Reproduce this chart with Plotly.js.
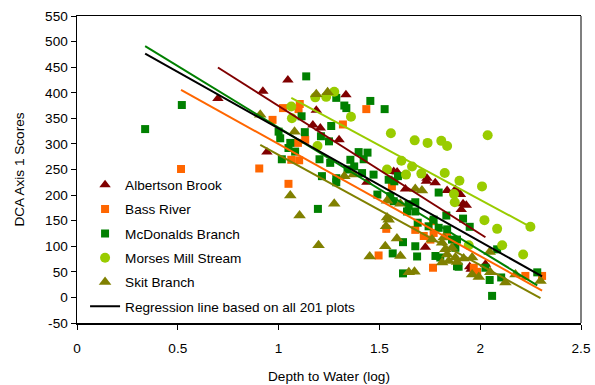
<!DOCTYPE html>
<html>
<head>
<meta charset="utf-8">
<script src="https://cdn.plot.ly/plotly-3.0.1.min.js"></script>
<style>
  html, body { margin: 0; padding: 0; background: #ffffff; }
  #chart { width: 595px; height: 385px; }
</style>
</head>
<body>
<div id="chart"></div>
<script>
// Depth to water (log) vs. DCA axis 1 score, by stream site
const albertsonX = [0.699, 0.922, 0.942, 1.046, 1.187, 1.170, 1.207, 1.300, 1.334, 1.438, 1.571, 1.588, 1.736, 1.629, 1.733, 1.777, 1.836, 1.877, 1.902, 1.915, 1.931, 1.906, 1.728, 1.948, 2.026, 1.955];
const albertsonY = [389, 403, 284, 425, 366, 337, 331, 308, 396, 225, 246, 245, 233, 212, 227, 224, 209, 211, 201, 183, 180, 172, 98, 60, 65, 55];

const bassX = [0.516, 0.904, 0.970, 1.022, 1.105, 1.099, 1.132, 1.096, 1.063, 1.102, 1.049, 1.319, 1.435, 1.562, 1.534, 1.678, 1.720, 1.769, 1.753, 1.496, 1.766, 1.985, 1.968, 2.224, 2.307, 1.766, 1.836];
const bassY = [251, 252, 347, 370, 378, 368, 308, 302, 269, 268, 222, 338, 368, 217, 134, 132, 120, 126, 113, 82, 58, 50, 58, 42, 42, 149, 120];

const mcdonaldsX = [0.338, 0.520, 1.137, 1.286, 1.114, 1.261, 1.000, 1.130, 1.008, 1.210, 1.058, 1.250, 1.049, 1.082, 1.016, 1.203, 1.256, 1.215, 1.286, 1.455, 1.526, 1.326, 1.336, 1.397, 1.441, 1.356, 1.422, 1.375, 1.342, 1.471, 1.592, 1.414, 1.195, 1.286, 1.574, 1.546, 1.794, 1.490, 1.571, 1.645, 1.637, 1.678, 1.678, 1.690, 1.744, 1.769, 1.617, 1.566, 1.678, 1.687, 1.778, 1.802, 1.885, 1.617, 1.832, 1.915, 1.948, 2.084, 1.893, 2.026, 2.047, 2.104, 2.059, 2.283, 1.860, 1.885, 1.877, 1.794, 1.836, 1.554];
const mcdonaldsY = [329, 376, 432, 390, 354, 335, 324, 323, 311, 315, 302, 305, 292, 285, 270, 270, 263, 237, 233, 384, 368, 375, 370, 284, 283, 269, 270, 256, 250, 240, 237, 243, 173, 225, 227, 230, 205, 201, 188, 182, 168, 186, 168, 146, 139, 152, 108, 86, 100, 80, 81, 78, 61, 47, 160, 154, 138, 94, 60, 58, 34, 39, 3, 49, 113, 113, 97, 136, 133, 198];

const morsesX = [1.276, 1.236, 1.182, 1.063, 1.066, 1.193, 1.359, 1.557, 1.675, 1.739, 1.807, 1.836, 2.037, 1.609, 1.662, 1.708, 1.824, 1.538, 1.632, 1.870, 1.874, 1.897, 2.009, 2.021, 2.084, 2.249, 2.109, 2.213, 1.943];
const morsesY = [402, 392, 391, 373, 350, 296, 353, 321, 307, 302, 306, 296, 317, 267, 256, 242, 243, 250, 240, 202, 186, 228, 217, 151, 134, 138, 102, 84, 102];

const skitX = [0.909, 1.187, 1.243, 1.079, 1.058, 1.104, 1.276, 1.198, 1.326, 1.372, 1.678, 1.711, 1.538, 1.604, 1.546, 1.533, 1.587, 1.529, 1.452, 1.604, 1.761, 1.811, 1.827, 1.836, 1.860, 1.877, 1.646, 1.674, 2.047, 1.844, 1.811, 1.885, 1.918, 1.960, 1.960, 1.993, 2.050, 2.125, 2.175, 2.299, 1.819, 1.538];
const skitY = [357, 397, 401, 324, 199, 160, 183, 102, 237, 240, 212, 209, 189, 183, 152, 139, 115, 100, 80, 81, 113, 107, 94, 84, 97, 78, 49, 50, 89, 71, 68, 69, 76, 78, 45, 40, 49, 29, 45, 32, 117, 156];

// Fitted regression coefficients (score = intercept + slope * depth)
const fitNames = ['Albertson Brook', 'Bass River', 'McDonalds Branch', 'Morses Mill Stream', 'Skit Branch', 'All plots'];
const fitSlope = [-250.0, -218.9, -240.4, -212.6, -215.5, -221.2];
const fitIntercept = [624.1, 518.5, 572.3, 616.2, 494.1, 551.4];

const seriesNames = ['Albertson Brook', 'Bass River', 'McDonalds Branch', 'Morses Mill Stream', 'Skit Branch'];
const seriesX = [albertsonX, bassX, mcdonaldsX, morsesX, skitX];
const seriesY = [albertsonY, bassY, mcdonaldsY, morsesY, skitY];
const seriesColor = ['#800000', '#FF6600', '#008000', '#99CC00', '#808000'];
const seriesSymbol = ['triangle-up', 'square', 'square', 'circle', 'triangle-up'];
const seriesSize = [10, 8, 8, 10, 11];

const xTickVals = [0, 0.5, 1, 1.5, 2, 2.5];
const xTickText = ['0', '0.5', '1', '1.5', '2', '2.5'];
const yTickVals = [-50, 0, 50, 100, 150, 200, 250, 300, 350, 400, 450, 500, 550];
const yTickText = ['-50', '0', '50', '100', '150', '200', '250', '300', '350', '400', '450', '500', '550'];

const FONT = 'Liberation Sans, Arial, sans-serif';
const FS = 13.6;

const traces = [];

// Point clouds for each site
seriesNames.forEach((name, i) => {
  traces.push({
    type: 'scatter', mode: 'markers', name: name,
    x: seriesX[i], y: seriesY[i],
    legendgroup: 'g' + i,
    marker: { symbol: seriesSymbol[i], size: seriesSize[i], color: seriesColor[i],
              line: { width: 0 } },
    hoverinfo: 'x+y+name'
  });
});

// Per-site regression lines, spanning each site's range of depths
function fitLine(k, xs) {
  const lo = Math.min.apply(null, xs);
  const hi = Math.max.apply(null, xs);
  return { x: [lo, hi], y: [fitIntercept[k] + fitSlope[k] * lo, fitIntercept[k] + fitSlope[k] * hi] };
}

seriesNames.forEach((name, i) => {
  const ln = fitLine(i, seriesX[i]);
  traces.push({
    type: 'scatter', mode: 'lines', name: name + ' fit',
    x: ln.x, y: ln.y, showlegend: false, hoverinfo: 'skip',
    line: { color: seriesColor[i], width: 2 }
  });
});

// Overall regression line across every plot
const allX = [].concat(albertsonX, bassX, mcdonaldsX, morsesX, skitX);
const allLine = fitLine(5, allX);
traces.push({
  type: 'scatter', mode: 'lines', name: 'Regression line based on all 201 plots',
  x: allLine.x, y: allLine.y, legendgroup: 'g5', hoverinfo: 'skip',
  line: { color: '#000000', width: 2 }
});

const layout = {
  width: 595, height: 385,
  margin: { l: 77, r: 14, t: 16, b: 62 },
  paper_bgcolor: '#ffffff', plot_bgcolor: '#ffffff',
  font: { family: FONT, size: FS, color: '#000000' },
  showlegend: true,
  legend: {
    x: 0.016, y: 0.50, xanchor: 'left', yanchor: 'top',
    bgcolor: 'rgba(0,0,0,0)', borderwidth: 0,
    font: { family: FONT, size: FS, color: '#000000' },
    tracegroupgap: 3.6, traceorder: 'grouped', itemwidth: 30
  },
  xaxis: {
    range: [0, 2.5], tickvals: xTickVals, ticktext: xTickText,
    showgrid: false, zeroline: false,
    showline: true, linecolor: '#000000', linewidth: 1.5, mirror: true,
    ticks: 'outside', ticklen: 5, tickwidth: 1, tickcolor: '#000000',
    ticklabelstandoff: 7,
    tickfont: { family: FONT, size: FS },
    title: { text: 'Depth to Water (log)', font: { family: FONT, size: FS }, standoff: 16 }
  },
  yaxis: {
    range: [-50, 550], tickvals: yTickVals, ticktext: yTickText,
    showgrid: false, zeroline: false,
    showline: true, linecolor: '#000000', linewidth: 1.5,
    ticks: 'outside', ticklen: 5, tickwidth: 1, tickcolor: '#000000',
    tickfont: { family: FONT, size: FS },
    title: { text: 'DCA Axis 1 Scores', font: { family: FONT, size: FS }, standoff: 17 }
  },
  shapes: [{
    type: 'line', xref: 'paper', yref: 'paper', x0: 1, x1: 1, y0: 0, y1: 1,
    line: { color: '#7f7f7f', width: 2 }
  }]
};

Plotly.newPlot('chart', traces, layout, { displayModeBar: false, staticPlot: true });
</script>
</body>
</html>
